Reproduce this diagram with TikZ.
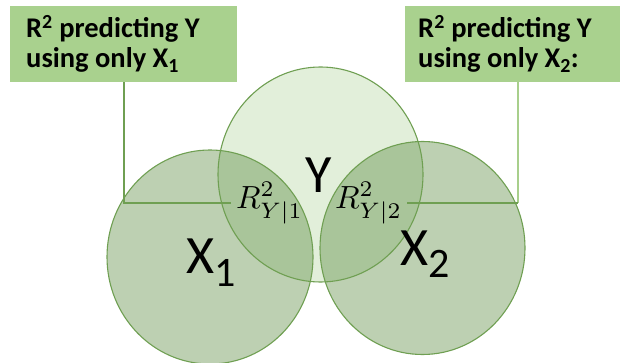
\documentclass[tikz,border=0pt]{standalone}
\usepackage{fontspec}
\setmainfont{Carlito}
\usetikzlibrary{calc}
\definecolor{boxfill}{HTML}{A9D18E}
\definecolor{edgegreen}{HTML}{6F9F52}
\definecolor{xfill}{HTML}{BDD0B2}
\definecolor{yfill}{HTML}{E2EFDA}
\definecolor{overlapfill}{HTML}{A9C59A}
\definecolor{lightline}{HTML}{A8CF8C}
\tikzset{
  boxnode/.style={rectangle, fill=boxfill, inner sep=0pt, anchor=north west},
  boxtext/.style={anchor=base west, inner sep=0pt, font=\fontsize{28.5}{33}\selectfont\bfseries},
  biglabel/.style={inner sep=0pt, font=\fontsize{54}{60}\selectfont},
  rlabel/.style={inner sep=5pt},
  outline/.style={draw=edgegreen, line width=1.1pt},
  leader/.style={draw=edgegreen, line width=1.4pt},
  leaderlight/.style={draw=lightline, line width=1.4pt}
}
\newcommand{\subdigit}[1]{\raisebox{-13pt}{\fontsize{42}{42}\selectfont #1}}
\begin{document}
\begin{tikzpicture}[x=1pt,y=-1pt]
\useasboundingbox (0,0) rectangle (623,363);
% circle centres
\coordinate (cx1) at (210,257);
\coordinate (cy) at (320.5,174.5);
\coordinate (cx2) at (422.5,248);
% fills
\fill[xfill] (cx1) ellipse [x radius=103pt, y radius=107pt];
\fill[xfill] (cx2) ellipse [x radius=102.5pt, y radius=106.5pt];
\fill[yfill] (cy) ellipse [x radius=102.5pt, y radius=107.5pt];
\begin{scope}
  \clip (cy) ellipse [x radius=102.5pt, y radius=107.5pt];
  \fill[overlapfill] (cx1) ellipse [x radius=103pt, y radius=107pt];
  \fill[overlapfill] (cx2) ellipse [x radius=102.5pt, y radius=106.5pt];
\end{scope}
% outlines
\draw[outline] (cx1) ellipse [x radius=103pt, y radius=107pt];
\draw[outline] (cx2) ellipse [x radius=102.5pt, y radius=106.5pt];
\draw[outline] (cy) ellipse [x radius=102.5pt, y radius=107.5pt];
% boxes
\node[boxnode, minimum width=227pt, minimum height=76pt] (lbox) at (10,6) {};
\node[boxnode, minimum width=215pt, minimum height=76pt] (rbox) at (405,6) {};
\node[boxtext] (lt1) at (26,38) {R\textsuperscript{2} predicting Y};
\node[boxtext] (lt2) at (26,68) {using only X\textsubscript{1}};
\node[boxtext] (rt1) at (418,38) {R\textsuperscript{2} predicting Y};
\node[boxtext] (rt2) at (418,68) {using only X\textsubscript{2}:};
% labels
\node[biglabel, anchor=base] (ylab) at (319,193) {Y};
\node[biglabel, anchor=base west] (x1lab) at (186,273.5) {X\subdigit{1}};
\node[biglabel, anchor=base west] (x2lab) at (400,265) {X\subdigit{2}};
\node[rlabel] (r1) at (269.5,203) {\scalebox{3.2}{$R^2_{Y|1}$}};
\node[rlabel] (r2) at (368.5,203) {\scalebox{3.2}{$R^2_{Y|2}$}};
% leader lines
\coordinate (l1) at (124,203);
\coordinate (l2) at (518,203);
\draw[leader] (lbox.south -| l1) -- (l1) -- (r1.west |- l1);
\draw[leaderlight] (rbox.south -| l2) -- (l2);
\draw[leader] (l2) -- (r2.east |- l2);
\end{tikzpicture}
\end{document}
